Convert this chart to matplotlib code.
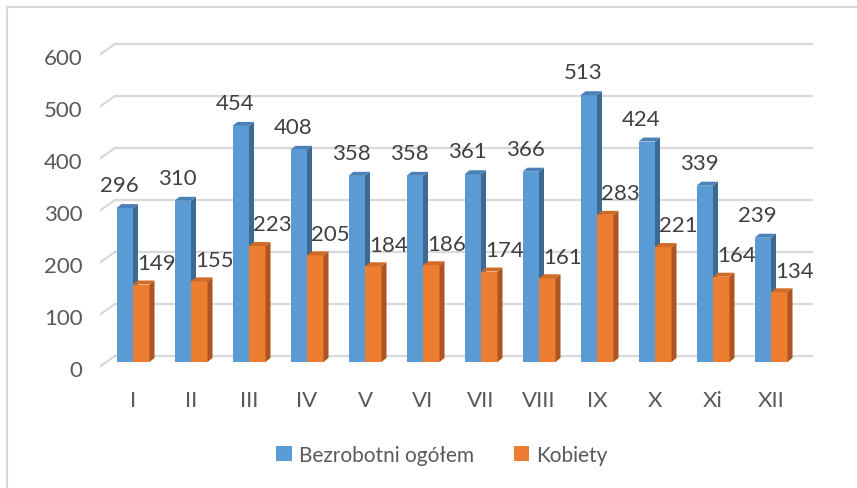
import numpy as np
import matplotlib
matplotlib.use("Agg")
from matplotlib import pyplot as plt
from matplotlib.patches import Polygon, Rectangle
from matplotlib.lines import Line2D

months = ["I", "II", "III", "IV", "V", "VI", "VII", "VIII", "IX", "X", "Xi", "XII"]
ogolem = [296, 310, 454, 408, 358, 358, 361, 366, 513, 424, 339, 239]
kobiety = [149, 155, 223, 205, 184, 186, 174, 161, 283, 221, 164, 134]
y_ticks = [0, 100, 200, 300, 400, 500, 600]

plt.rcParams['font.family'] = ['Lato', 'DejaVu Sans']

W, H = 857, 489
fig = plt.figure(figsize=(W / 100, H / 100), dpi=100)

# pixel geometry of the plot area
px_left, px_right = 100, 813
px_step = 58.0          # pixels between categories
px_first = 133          # centre of first category
px_unit = 0.52          # pixels per value unit
px_base = 363           # front base of bars
x0 = -(px_first - px_left) / px_step
x1 = x0 + (px_right - px_left) / px_step
y0, y1 = -20, 620
top_px = px_base - y1 * px_unit
bot_px = px_base - y0 * px_unit
ax = fig.add_axes([px_left / W, 1 - bot_px / H, (px_right - px_left) / W, (bot_px - top_px) / H])
ax.set_xlim(x0, x1)
ax.set_ylim(y0, y1)
ax.axis("off")

grid_front = -8.5       # front end of the floor diagonal
grid_back = 11.5        # back wall offset
diag_dx = 15 / px_step
for v in y_ticks:
    ax.add_line(Line2D([x0 + diag_dx, x1], [v + grid_back] * 2, color="#d9d9d9", lw=1.6, zorder=1))
    ax.add_line(Line2D([x0, x0 + diag_dx], [v + grid_front, v + grid_back], color="#d9d9d9", lw=1.6, zorder=1))
    ax.text(x0 - 0.3, v + grid_front - 3, str(v), ha="right", va="center_baseline", fontsize=16, color="#595959")

bw = 16.5 / px_step
ddx = 5 / px_step
ddy = 4 / px_unit
x = np.arange(len(months))


def bar3d(xc, h, front, side, top):
    l, r = xc - bw / 2, xc + bw / 2
    ax.add_patch(Rectangle((l, 0), bw, h, facecolor=front, edgecolor="none", zorder=3))
    ax.add_patch(Polygon([(r, 0), (r + ddx, ddy), (r + ddx, h + ddy), (r, h)],
                         facecolor=side, edgecolor="none", zorder=3))
    ax.add_patch(Polygon([(l, h), (l + ddx, h + ddy), (r + ddx, h + ddy), (r, h)],
                         facecolor=top, edgecolor="none", zorder=3))


for i in x:
    bar3d(i - bw / 2, ogolem[i], "#5b9bd5", "#3d6a93", "#4a81b8")
    bar3d(i + bw / 2, kobiety[i], "#ed7d31", "#ad5420", "#d06a26")
    ax.annotate(str(ogolem[i]), (i - bw / 2, ogolem[i]), xytext=(-4, 18), textcoords="offset points",
                ha="center", va="center_baseline", fontsize=16, color="#404040", zorder=4)
    ax.annotate(str(kobiety[i]), (i + bw / 2, kobiety[i]), xytext=(11, 17), textcoords="offset points",
                ha="center", va="center_baseline", fontsize=16, color="#404040", zorder=4)
    ax.text(i, -70, months[i], ha="center", va="center_baseline", fontsize=16, color="#595959")

# legend
fig.legend(handles=[Rectangle((0, 0), 1, 1, fc="#5b9bd5"), Rectangle((0, 0), 1, 1, fc="#ed7d31")],
           labels=["Bezrobotni ogółem", "Kobiety"], loc="center", bbox_to_anchor=(442 / W, 1 - 456 / H),
           ncol=2, frameon=False, fontsize=15, labelcolor="#595959", handlelength=0.75, handleheight=0.75,
           handletextpad=0.35, columnspacing=1.9)

# chart border (top and left)
fig.add_artist(Line2D([7 / W, 1], [1 - 8 / H] * 2, color="#d9d9d9", lw=1.5))
fig.add_artist(Line2D([7 / W] * 2, [0, 1 - 8 / H], color="#d9d9d9", lw=1.5))

fig.savefig("out.png", dpi=100)
